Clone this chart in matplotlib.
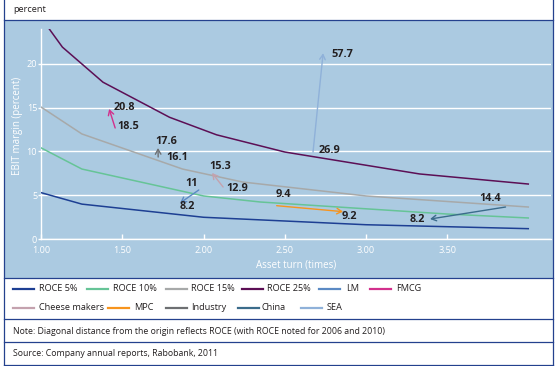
import matplotlib
matplotlib.use("Agg")
import matplotlib.pyplot as plt
from matplotlib.lines import Line2D
from matplotlib.patches import Rectangle

plt.rcParams['font.family'] = ['Open Sans', 'DejaVu Sans']

# ROCE iso-lines (asset turn vs EBIT margin)
roce5_x = [1.0, 1.25, 2.0, 3.0, 4.0]
roce5_y = [5.3, 4.0, 2.5, 1.65, 1.2]
roce10_x = [1.0, 1.25, 2.0, 2.35, 3.5, 4.0]
roce10_y = [10.4, 8.0, 4.93, 4.24, 2.87, 2.42]
roce15_x = [1.0, 1.25, 1.87, 2.24, 3.0, 4.0]
roce15_y = [15.05, 12.0, 8.0, 6.52, 4.93, 3.67]
roce25_x = [1.04, 1.13, 1.38, 1.79, 2.08, 2.5, 3.33, 4.0]
roce25_y = [24.2, 21.9, 17.9, 13.9, 11.9, 9.94, 7.44, 6.29]

# companies: 2006 -> 2010
companies = ['LM', 'FMCG', 'Cheese makers', 'MPC', 'Industry', 'China', 'SEA']
turn_2006 = [1.97, 1.455, 2.12, 2.45, 1.72, 3.86, 2.674]
margin_2006 = [5.61, 12.68, 5.95, 3.82, 9.37, 3.67, 9.94]
turn_2010 = [1.855, 1.418, 2.052, 2.859, 1.719, 3.395, 2.736]
margin_2010 = [4.13, 14.85, 7.55, 3.14, 10.4, 2.30, 21.2]
roce_2006 = ['11', '18.5', '12.9', '9.4', '16.1', '14.4', '26.9']
roce_2010 = ['8.2', '20.8', '15.3', '9.2', '17.6', '8.2', '57.7']

x_ticks = [1.0, 1.5, 2.0, 2.5, 3.0, 3.5]
y_ticks = [0, 5, 10, 15, 20]

roce_names = ['ROCE 5%', 'ROCE 10%', 'ROCE 15%', 'ROCE 25%']
roce_colors = ['#1d3f93', '#66c497', '#a7a9a9', '#5c0f55']
comp_colors = ['#5b8ac4', '#d2308c', '#c4a2ae', '#f7941d', '#6d6f72', '#3b6c8b', '#8fb1d9']

W, H = 556, 366
navy = '#24418e'
bg = '#abcae1'
dark = '#231f20'


def fx(px):
    return px / W


def fy(py):
    return 1 - py / H


fig = plt.figure(figsize=(W / 100, H / 100), dpi=100)
fig.patch.set_facecolor('white')

# background band and frame
fig.add_artist(Rectangle((fx(3.5), fy(277.5)), fx(552.5) - fx(3.5), fy(19.5) - fy(277.5),
                         transform=fig.transFigure, facecolor=bg, edgecolor='none', zorder=-1))
for y in [19.5, 277.5, 318.5, 342, 365]:
    fig.add_artist(Line2D([fx(3.5), fx(552.5)], [fy(y), fy(y)], color=navy, lw=0.9))
for x in [3.5, 552.5]:
    fig.add_artist(Line2D([fx(x), fx(x)], [fy(0), fy(365)], color=navy, lw=0.9))

fig.text(fx(13), fy(10), 'percent', fontsize=6.6, color=dark, va='center')
fig.text(fx(13), fy(331), 'Note: Diagonal distance from the origin reflects ROCE (with ROCE noted for 2006 and 2010)',
         fontsize=6.3, color=dark, va='center')
fig.text(fx(13), fy(353), 'Source: Company annual reports, Rabobank, 2011', fontsize=6.3, color=dark, va='center')

ax = fig.add_axes([fx(41.3), fy(239.2), fx(551) - fx(41.3), fy(28.7) - fy(239.2)])
ax.set_facecolor('none')

for xs, ys, c in zip([roce5_x, roce10_x, roce15_x, roce25_x],
                     [roce5_y, roce10_y, roce15_y, roce25_y], roce_colors):
    ax.plot(xs, ys, color=c, lw=1.1, zorder=3)

# label offsets in pixels (tail, head), head alignment
tail_off = [(-13, 6), (2, 1), (3, -1), (-1, 11), (8, 0), (-26, 9), (6, 2)]
head_off = [(0, -4), (4, 1), (-3, 6), (-1, -5), (-3, 6), (-5, 0), (8, -1)]
head_ha = ['left', 'left', 'left', 'left', 'left', 'right', 'left']

for i in range(len(companies)):
    ax.annotate('', xy=(turn_2010[i], margin_2010[i]), xytext=(turn_2006[i], margin_2006[i]),
                arrowprops=dict(arrowstyle='->,head_length=0.35,head_width=0.2', color=comp_colors[i],
                                lw=1.0, shrinkA=0, shrinkB=0, mutation_scale=10), zorder=4)
    ax.annotate(roce_2006[i], xy=(turn_2006[i], margin_2006[i]),
                xytext=(tail_off[i][0] * 0.72, tail_off[i][1] * 0.72), textcoords='offset points',
                ha='left', va='center', fontsize=7.8, fontweight='bold', color=dark, zorder=5)
    ax.annotate(roce_2010[i], xy=(turn_2010[i], margin_2010[i]),
                xytext=(head_off[i][0] * 0.72, head_off[i][1] * 0.72), textcoords='offset points',
                ha=head_ha[i], va='center', fontsize=7.8, fontweight='bold', color=dark, zorder=5)

ax.set_xlim(1.0, 4.14)
ax.set_ylim(0, 24)
ax.set_xticks(x_ticks)
ax.set_xticklabels([f'{t:.2f}' for t in x_ticks])
ax.set_yticks(y_ticks)
ax.yaxis.grid(True, color='white', lw=1)
ax.set_axisbelow(True)
for s in ['top', 'right']:
    ax.spines[s].set_visible(False)
for s in ['left', 'bottom']:
    ax.spines[s].set_color('white')
    ax.spines[s].set_linewidth(1)
ax.tick_params(axis='x', direction='in', length=3.6, width=1, color='white', labelcolor='white',
               labelsize=6.6, pad=5)
ax.tick_params(axis='y', direction='out', length=2, width=1, color='white', labelcolor='white',
               labelsize=6.6, pad=1)
ax.set_xlabel('Asset turn (times)', color='white', fontsize=7, labelpad=3)
ax.set_ylabel('EBIT margin (percent)', color='white', fontsize=7)
ax.yaxis.set_label_coords(-0.035, 0.54)

# legend
legend_names = roce_names + companies
legend_colors = roce_colors + comp_colors
legend_pos = [(13, 39, 288.5), (87, 113, 288.5), (166, 191, 288.5), (242, 267, 288.5),
              (319, 346, 288.5), (370, 396, 288.5),
              (13, 39, 308), (108, 134, 308), (166, 191, 308), (238, 262, 308), (301, 327, 308)]
for name, c, (lx, tx, y) in zip(legend_names, legend_colors, legend_pos):
    fig.add_artist(Line2D([fx(lx), fx(lx + 21)], [fy(y), fy(y)], color=c, lw=1.6))
    fig.text(fx(tx), fy(y), name, fontsize=6.6, color=dark, va='center')

fig.savefig('out.png', dpi=100)
